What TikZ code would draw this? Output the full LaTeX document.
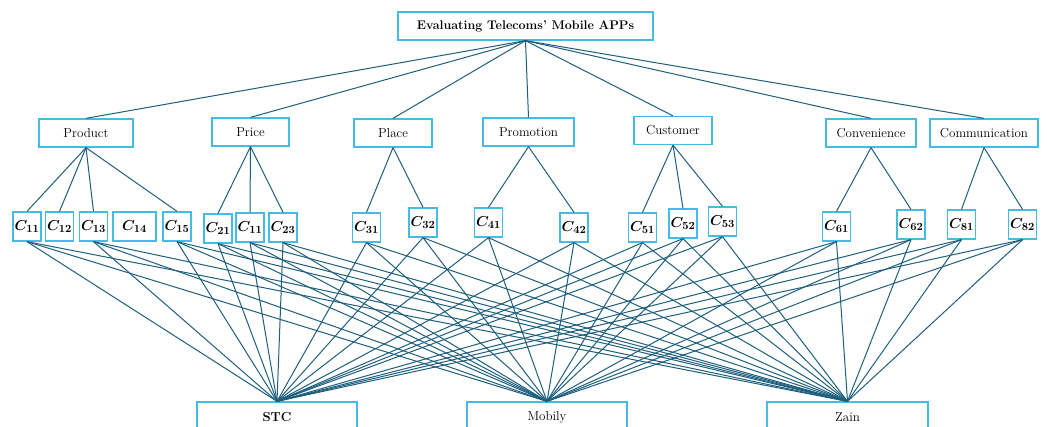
\documentclass[tikz,border=0pt]{standalone}
\usepackage{amsmath}
\definecolor{boxc}{HTML}{45BCE6}
\definecolor{linec}{HTML}{1E5F7E}
\tikzset{
  bx/.style={draw=boxc, line width=1.3pt, inner sep=0pt, minimum height=28pt, font=\fontsize{13}{15}\selectfont},
  cb/.style={draw=boxc, line width=1.3pt, inner sep=0pt, minimum width=28pt, minimum height=29pt, font=\fontsize{15.5}{17}\selectfont\boldmath},
  ln/.style={draw=linec, line width=1pt}
}
\begin{document}
\begin{tikzpicture}[x=1pt,y=-1pt]
\clip (0,0) rectangle (1047,427);
\fill[white] (0,0) rectangle (1047,427);
% top
\node[bx, minimum width=255pt, font=\fontsize{12.5}{14}\selectfont\bfseries] (T) at (525.5,26) {Evaluating Telecoms' Mobile APPs};
% categories
\node[bx, minimum width=94pt] (P1) at (86,133) {Product};
\node[bx, minimum width=77pt] (P2) at (250.5,132) {Price};
\node[bx, minimum width=78pt] (P3) at (393,133) {Place};
\node[bx, minimum width=91pt] (P4) at (528.5,132) {Promotion};
\node[bx, minimum width=78pt] (P5) at (673,130.5) {Customer};
\node[bx, minimum width=90pt] (P6) at (871,133) {Convenience};
\node[bx, minimum width=108pt] (P7) at (984,133) {Communication};
% criteria
\node[cb] (c11) at (27,226.5) {$C_{11}$};
\node[cb] (c12) at (59.5,226.5) {$C_{12}$};
\node[cb] (c13) at (93.5,226.5) {$C_{13}$};
\node[cb, minimum width=43pt] (c14) at (134.5,226.5) {$C_{14}$};
\node[cb] (c15) at (177,226.5) {$C_{15}$};
\node[cb] (c21) at (218,228.5) {$C_{21}$};
\node[cb] (c22) at (250,227.5) {$C_{11}$};
\node[cb] (c23) at (283,227.5) {$C_{23}$};
\node[cb] (c31) at (366.5,227.5) {$C_{31}$};
\node[cb] (c32) at (423,222.5) {$C_{32}$};
\node[cb] (c41) at (488.5,222.5) {$C_{41}$};
\node[cb] (c42) at (574,227.5) {$C_{42}$};
\node[cb] (c51) at (642.5,227.5) {$C_{51}$};
\node[cb] (c52) at (683,223.5) {$C_{52}$};
\node[cb] (c53) at (722.5,221.5) {$C_{53}$};
\node[cb] (c61) at (836.5,226.5) {$C_{61}$};
\node[cb] (c62) at (911,224.5) {$C_{62}$};
\node[cb] (c81) at (961.5,224.5) {$C_{81}$};
\node[cb] (c82) at (1022.5,224.5) {$C_{82}$};
% alternatives
\node[bx, minimum width=160pt, minimum height=30pt, font=\fontsize{13}{15}\selectfont\bfseries] (A1) at (277,417) {STC};
\node[bx, minimum width=160pt, minimum height=30pt] (A2) at (547,417) {Mobily};
\node[bx, minimum width=161pt, minimum height=30pt] (A3) at (847.5,417) {Zain};
% connectors
\foreach \p in {P1,P2,P3,P4,P5,P6,P7} \draw[ln] (T.south) -- (\p.north);
\foreach \c in {c11,c12,c13,c15} \draw[ln] (P1.south) -- (\c.north);
\foreach \c in {c21,c22,c23} \draw[ln] (P2.south) -- (\c.north);
\foreach \c in {c31,c32} \draw[ln] (P3.south) -- (\c.north);
\foreach \c in {c41,c42} \draw[ln] (P4.south) -- (\c.north);
\foreach \c in {c51,c52,c53} \draw[ln] (P5.south) -- (\c.north);
\foreach \c in {c61,c62} \draw[ln] (P6.south) -- (\c.north);
\foreach \c in {c81,c82} \draw[ln] (P7.south) -- (\c.north);
\foreach \c in {c11,c13,c15,c21,c22,c23,c31,c32,c41,c42,c51,c52,c53,c61,c62,c81,c82}
  \foreach \a in {A1,A2,A3} \draw[ln] (\c.south) -- (\a.north);
\end{tikzpicture}
\end{document}
